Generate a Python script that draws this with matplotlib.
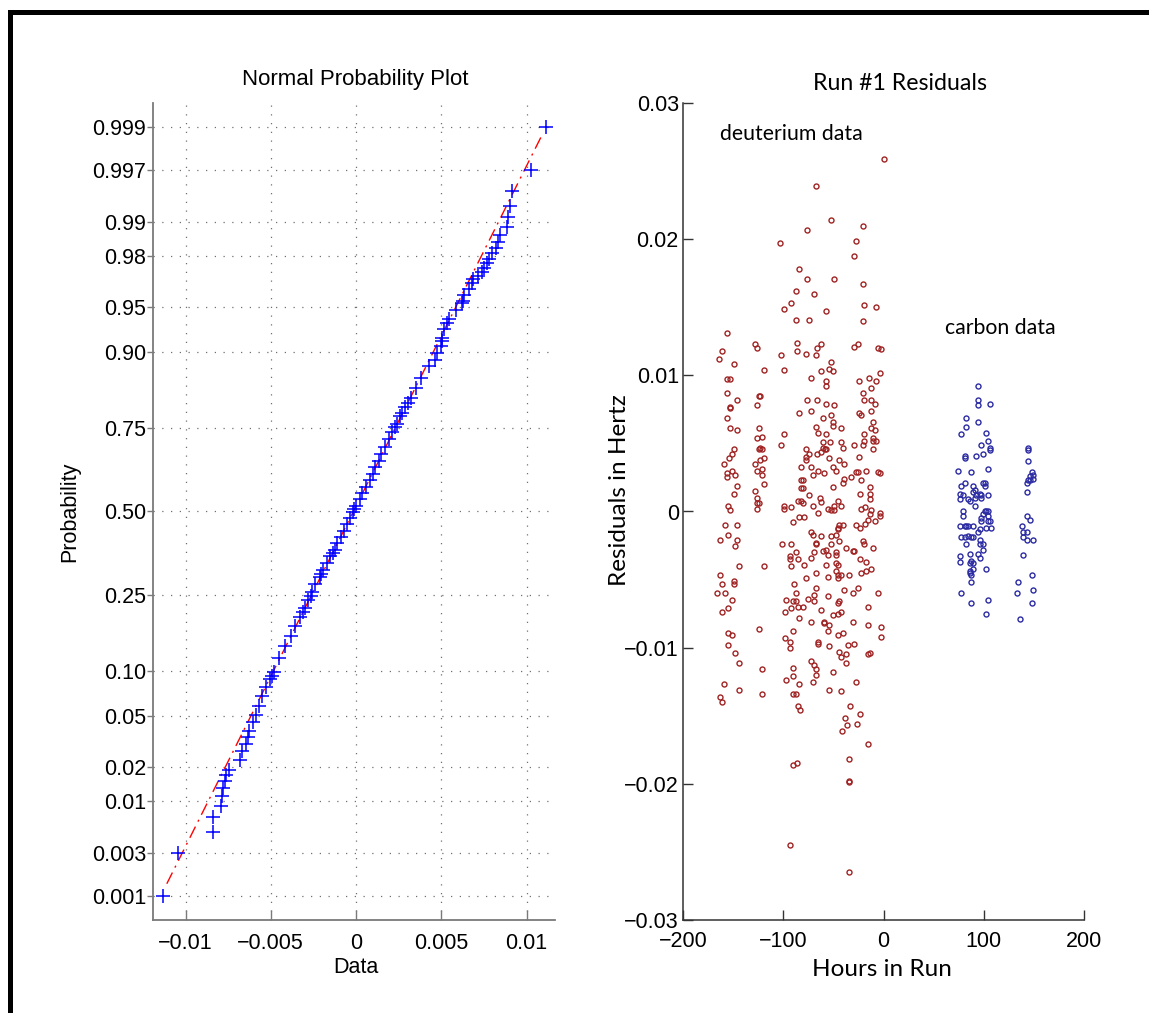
import math
from statistics import NormalDist
import numpy as np
import matplotlib
matplotlib.use('Agg')
import matplotlib.pyplot as plt
from matplotlib.lines import Line2D
from matplotlib.ticker import NullLocator

W, H = 1149, 1013

# ---- normal probability plot data: (rank in sorted sample, value), n = 500 ----
npp_n = 500
npp_points = np.array([
    (1, -0.01135), (2, -0.01044), (3, -0.00840), (4, -0.00840), (5, -0.00794),
    (6, -0.00789), (7, -0.00780), (8, -0.00771), (9, -0.00762), (10, -0.00745),
    (12, -0.00680), (14, -0.00669), (16, -0.00648), (18, -0.00636), (20, -0.00628),
    (23, -0.00607), (26, -0.00589), (30, -0.00572), (35, -0.00551), (40, -0.00528),
    (45, -0.00504), (47, -0.00495), (50, -0.00481), (60, -0.00452), (70, -0.00416),
    (80, -0.00384), (90, -0.00358), (100, -0.00328), (105, -0.00309), (110, -0.00302),
    (120, -0.00282), (125, -0.00262), (130, -0.00258), (140, -0.00238), (150, -0.00214),
    (155, -0.00205), (160, -0.00196), (170, -0.00170), (180, -0.00150), (185, -0.00133),
    (190, -0.00126), (200, -0.00109), (210, -0.00088), (220, -0.00070), (230, -0.00053),
    (240, -0.00035), (250, -0.00015), (254, -0.00010), (260, 0.00000), (270, 0.00023),
    (280, 0.00035), (290, 0.00059), (300, 0.00079), (310, 0.00097), (320, 0.00111),
    (330, 0.00132), (340, 0.00147), (350, 0.00167), (360, 0.00191), (370, 0.00211),
    (376, 0.00229), (380, 0.00238), (390, 0.00258), (394, 0.00268), (400, 0.00287),
    (405, 0.00307), (410, 0.00323), (420, 0.00349), (430, 0.00381), (440, 0.00425),
    (445, 0.00463), (450, 0.00472), (455, 0.00496), (458, 0.00503), (460, 0.00507),
    (465, 0.00516), (468, 0.00532), (470, 0.00548), (474, 0.00584), (477, 0.00619),
    (478, 0.00629), (480, 0.00636), (482, 0.00660), (484, 0.00679), (485, 0.00688),
    (486, 0.00717), (487, 0.00737), (488, 0.00751), (489, 0.00767), (490, 0.00780),
    (491, 0.00796), (492, 0.00821), (493, 0.00833), (494, 0.00845), (495, 0.00887),
    (496, 0.00890), (497, 0.00903), (498, 0.00917), (499, 0.01026), (500, 0.01113)])
# reference line (fit through quartiles)
ref_x = [-0.0111, 0.01085]
ref_p = [0.00138, 0.99870]

prob_ticks = [0.001, 0.003, 0.01, 0.02, 0.05, 0.10, 0.25, 0.50, 0.75, 0.90, 0.95,
              0.98, 0.99, 0.997, 0.999]
prob_labels = ['0.001', '0.003', '0.01', '0.02', '0.05', '0.10', '0.25', '0.50',
               '0.75', '0.90', '0.95', '0.98', '0.99', '0.997', '0.999']
data_ticks = [-0.01, -0.005, 0, 0.005, 0.01]
data_labels = ['\u22120.01', '\u22120.005', '0', '0.005', '0.01']

# ---- residuals: (hours, residual in Hz) ----
deuterium = np.array([
    (0, 0.0259), (-67, 0.0239), (-52, 0.0214), (-20, 0.0210), (-76, 0.0207), (-27, 0.0199),
    (-103, 0.0197), (-29, 0.0188), (-84, 0.0178), (-76, 0.0171), (-49, 0.0171), (-20, 0.0167),
    (-87, 0.0162), (-69, 0.0160), (-92, 0.0153), (-19, 0.0152), (-7, 0.0150), (-99, 0.0149),
    (-57, 0.0147), (-87, 0.0141), (-74, 0.0141), (-20, 0.0140), (-156, 0.0131), (-86, 0.0124),
    (-128, 0.0123), (-126, 0.0120), (-62, 0.0123), (-66, 0.0120), (-29, 0.0121), (-25, 0.0123),
    (-5, 0.0120), (-2, 0.0119), (-161, 0.0118), (-164, 0.0112), (-86, 0.0118), (-102, 0.0115),
    (-77, 0.0116), (-67, 0.0115), (-52, 0.0110), (-149, 0.0108), (-119, 0.0104), (-99, 0.0104),
    (-54, 0.0105), (-50, 0.0103), (-62, 0.0103), (-3, 0.0102), (-156, 0.0097), (-153, 0.0097),
    (-72, 0.0098), (-57, 0.0096), (-57, 0.0092), (-24, 0.0096), (-14, 0.0098), (-7, 0.0096),
    (-12, 0.0091), (-156, 0.0087), (-20, 0.0087), (-124, 0.0085), (-123, 0.0085),
    (-146, 0.0082), (-126, 0.0078), (-153, 0.0077), (-153, 0.0076), (-156, 0.0069), (-76, 0.0082),
    (-66, 0.0082), (-57, 0.0079), (-49, 0.0078), (-19, 0.0082), (-12, 0.0082), (-8, 0.0079),
    (-72, 0.0074), (-84, 0.0072), (-60, 0.0069), (-52, 0.0071), (-50, 0.0066), (-50, 0.0063),
    (-24, 0.0072), (-22, 0.0071), (-12, 0.0074), (-10, 0.0066), (-153, 0.0061), (-146, 0.0060),
    (-124, 0.0061), (-67, 0.0062), (-65, 0.0058), (-57, 0.0057), (-42, 0.0061), (-19, 0.0057),
    (-12, 0.0061), (-8, 0.0060), (-99, 0.0057), (-126, 0.0054), (-121, 0.0055), (-102, 0.0049),
    (-60, 0.0051), (-53, 0.0051), (-42, 0.0051), (-29, 0.0049), (-20, 0.0049), (-19, 0.0052),
    (-10, 0.0054), (-10, 0.0052), (-7, 0.0052), (-124, 0.0046), (-123, 0.0047), (-121, 0.0046),
    (-149, 0.0046), (-77, 0.0046), (-60, 0.0047), (-58, 0.0046), (-57, 0.0046), (-40, 0.0047),
    (-10, 0.0046), (-151, 0.0042), (-154, 0.0039), (-159, 0.0035), (-123, 0.0038), (-119, 0.0039),
    (-128, 0.0035), (-77, 0.0040), (-77, 0.0038), (-74, 0.0042), (-66, 0.0042), (-62, 0.0044),
    (-54, 0.0039), (-44, 0.0038), (-39, 0.0035), (-24, 0.0040), (-82, 0.0033), (-72, 0.0033),
    (-65, 0.0030), (-50, 0.0033), (-47, 0.0030), (-126, 0.0030), (-121, 0.0031), (-156, 0.0028),
    (-156, 0.0025), (-148, 0.0027), (-151, 0.0030), (-121, 0.0027), (-119, 0.0020), (-70, 0.0027),
    (-59, 0.0028), (-27, 0.0029), (-25, 0.0029), (-17, 0.0030), (-5, 0.0029), (-3, 0.0028),
    (-82, 0.0023), (-80, 0.0023), (-40, 0.0021), (-39, 0.0024), (-32, 0.0025), (-22, 0.0023),
    (-146, 0.0019), (-50, 0.0018), (-149, 0.0013), (-128, 0.0015), (-126, 0.0010), (-82, 0.0017),
    (-80, 0.0017), (-74, 0.0012), (-23, 0.0013), (-13, 0.0018), (-13, 0.0013), (-13, 0.0009),
    (-63, 0.0010), (-62, 0.0007), (-85, 0.0008), (-82, 0.0008), (-80, 0.0006), (-70, 0.0004),
    (-155, 0.0004), (-153, 0.0001), (-126, 0.0006), (-126, 0.0002), (-124, 0.0006), (-99, 0.0004),
    (-99, 0.0002), (-92, 0.0003), (-55, 0.0002), (-52, 0.0001), (-49, 0.0001), (-49, 0.0004),
    (-45, 0.0008), (-42, 0.0004), (-65, -0.0001), (-22, 0.0002), (-18, 0.0003), (-12, 0.0001),
    (-13, -0.0002), (-15, -0.0006), (-3, -0.0001), (-3, -0.0003), (-8, -0.0007), (-84, -0.0004),
    (-79, -0.0004), (-90, -0.0008), (-18, -0.0009), (-23, -0.0012), (-27, -0.0010),
    (-158, -0.0010), (-146, -0.0010), (-155, -0.0017), (-163, -0.0021), (-146, -0.0021),
    (-148, -0.0025), (-72, -0.0015), (-70, -0.0017), (-62, -0.0018), (-52, -0.0018),
    (-47, -0.0017), (-45, -0.0012), (-44, -0.0010), (-40, -0.0010), (-45, -0.0013),
    (-67, -0.0023), (-67, -0.0024), (-57, -0.0028), (-60, -0.0029), (-55, -0.0032),
    (-52, -0.0024), (-44, -0.0022), (-37, -0.0027), (-47, -0.0030), (-47, -0.0032),
    (-101, -0.0024), (-92, -0.0024), (-87, -0.0030), (-93, -0.0033), (-93, -0.0035),
    (-85, -0.0035), (-72, -0.0034), (-69, -0.0030), (-30, -0.0029), (-29, -0.0029),
    (-20, -0.0022), (-19, -0.0024), (-10, -0.0027), (-23, -0.0035), (-17, -0.0037),
    (-12, -0.0042), (-17, -0.0044), (-22, -0.0045), (-47, -0.0038), (-45, -0.0039),
    (-47, -0.0044), (-45, -0.0047), (-45, -0.0049), (-42, -0.0047), (-34, -0.0047),
    (-57, -0.0039), (-55, -0.0048), (-67, -0.0045), (-79, -0.0039), (-92, -0.0040),
    (-77, -0.0049), (-119, -0.0040), (-144, -0.0040), (-163, -0.0047), (-161, -0.0053),
    (-149, -0.0051), (-149, -0.0053), (-89, -0.0053), (-67, -0.0056), (-39, -0.0058),
    (-25, -0.0056), (-166, -0.0060), (-158, -0.0060), (-151, -0.0065), (-87, -0.0060),
    (-69, -0.0061), (-75, -0.0064), (-69, -0.0066), (-55, -0.0062), (-97, -0.0065),
    (-90, -0.0066), (-87, -0.0066), (-30, -0.0060), (-5, -0.0060), (-45, -0.0067),
    (-44, -0.0066), (-161, -0.0074), (-155, -0.0071), (-98, -0.0074), (-92, -0.0071),
    (-85, -0.0070), (-80, -0.0070), (-62, -0.0072), (-50, -0.0076), (-45, -0.0075),
    (-42, -0.0074), (-15, -0.0070), (-84, -0.0078), (-72, -0.0081), (-59, -0.0081),
    (-59, -0.0082), (-54, -0.0083), (-30, -0.0081), (-15, -0.0083), (-2, -0.0085),
    (-124, -0.0086), (-155, -0.0089), (-151, -0.0091), (-90, -0.0088), (-55, -0.0088),
    (-45, -0.0091), (-40, -0.0089), (-2, -0.0092), (-98, -0.0093), (-93, -0.0096),
    (-93, -0.0100), (-65, -0.0096), (-65, -0.0097), (-54, -0.0099), (-35, -0.0098),
    (-29, -0.0097), (-155, -0.0098), (-148, -0.0104), (-144, -0.0111), (-44, -0.0103),
    (-42, -0.0107), (-37, -0.0105), (-13, -0.0104), (-15, -0.0105), (-72, -0.0110),
    (-69, -0.0113), (-67, -0.0116), (-67, -0.0120), (-70, -0.0125), (-50, -0.0118),
    (-37, -0.0111), (-121, -0.0116), (-90, -0.0115), (-90, -0.0121), (-97, -0.0124),
    (-84, -0.0127), (-27, -0.0125), (-159, -0.0127), (-144, -0.0131), (-121, -0.0134),
    (-90, -0.0134), (-87, -0.0134), (-54, -0.0131), (-42, -0.0132), (-163, -0.0136),
    (-161, -0.0140), (-85, -0.0143), (-83, -0.0146), (-33, -0.0143), (-23, -0.0149),
    (-38, -0.0152), (-36, -0.0157), (-26, -0.0156), (-41, -0.0161), (-15, -0.0171),
    (-34, -0.0182), (-90, -0.0186), (-86, -0.0185), (-34, -0.0198), (-34, -0.0199),
    (-93, -0.0245), (-34, -0.0265)])

carbon = np.array([
    (94, 0.0092), (94, 0.0082), (94, 0.0078), (106, 0.0079), (82, 0.0069), (94, 0.0066),
    (82, 0.0062), (77, 0.0057), (102, 0.0058), (104, 0.0052), (97, 0.0049), (106, 0.0047),
    (106, 0.0045), (99, 0.0042), (92, 0.0041), (81, 0.0041), (81, 0.0039), (104, 0.0031),
    (74, 0.0030), (87, 0.0029), (81, 0.0021), (77, 0.0019), (89, 0.0019), (91, 0.0016),
    (99, 0.0021), (101, 0.0021), (101, 0.0019), (89, 0.0014), (96, 0.0013), (97, 0.0012),
    (92, 0.0012), (91, 0.0010), (104, 0.0012), (76, 0.0013), (79, 0.0012), (76, 0.0009),
    (84, 0.0009), (86, 0.0008), (97, 0.0010), (91, 0.0004), (79, 0.0000), (79, -0.0003),
    (99, -0.0002), (101, 0.0000), (102, 0.0000), (104, 0.0000), (97, -0.0005), (97, -0.0007),
    (104, -0.0003), (104, -0.0007), (106, -0.0007), (76, -0.0011), (81, -0.0011),
    (82, -0.0011), (84, -0.0011), (89, -0.0011), (102, -0.0012), (107, -0.0012),
    (96, -0.0013), (94, -0.0015), (77, -0.0019), (81, -0.0019), (84, -0.0018), (87, -0.0019),
    (89, -0.0019), (96, -0.0021), (82, -0.0024), (96, -0.0024), (99, -0.0024), (99, -0.0028),
    (86, -0.0031), (94, -0.0031), (96, -0.0034), (76, -0.0033), (76, -0.0037), (87, -0.0036),
    (86, -0.0038), (89, -0.0038), (89, -0.0042), (86, -0.0044), (86, -0.0045), (87, -0.0047),
    (102, -0.0042), (87, -0.0052), (77, -0.0060), (87, -0.0067), (104, -0.0065),
    (102, -0.0075),
    (144, 0.0047), (144, 0.0045), (144, 0.0037), (148, 0.0029), (149, 0.0027), (146, 0.0026),
    (149, 0.0024), (146, 0.0023), (144, 0.0023), (143, 0.0021), (143, 0.0014), (143, -0.0003),
    (146, -0.0006), (138, -0.0011), (139, -0.0015), (143, -0.0015), (139, -0.0019),
    (143, -0.0021), (149, -0.0021), (139, -0.0032), (148, -0.0047), (134, -0.0052),
    (149, -0.0058), (133, -0.0060), (148, -0.0067), (136, -0.0079)])

hour_ticks = [-200, -100, 0, 100, 200]
hour_labels = ['\u2212200', '\u2212100', '0', '100', '200']
resid_ticks = [-0.03, -0.02, -0.01, 0, 0.01, 0.02, 0.03]
resid_labels = ['\u22120.03', '\u22120.02', '\u22120.01', '0', '0.01', '0.02', '0.03']

# ---- normal probability scale ----
nd = NormalDist()
_ppf = np.vectorize(nd.inv_cdf, otypes=[float])
_erf = np.vectorize(math.erf, otypes=[float])


def prob_fwd(p):
    p = np.clip(np.asarray(p, dtype=float), 1e-9, 1 - 1e-9)
    return _ppf(p)


def prob_inv(z):
    z = np.asarray(z, dtype=float)
    return 0.5 * (1 + _erf(z / math.sqrt(2)))


def fx(px):
    return px / W


def fy(py):
    return 1 - py / H


arial = 'Liberation Sans'
myriad = 'Lato'

fig = plt.figure(figsize=(W / 100, H / 100), dpi=100)

# ---------------- left: normal probability plot ----------------
ax1 = fig.add_axes([fx(153), fy(920), (555 - 153) / W, (920 - 103) / H])
ax1.set_yscale('function', functions=(prob_fwd, prob_inv))
npp_prob = (npp_points[:, 0] - 0.5) / npp_n
ax1.plot(ref_x, ref_p, color='red', lw=1.0, linestyle=(0, (9, 4, 1.5, 4)), zorder=2)
ax1.plot(npp_points[:, 1], npp_prob, '+', color='blue', ms=10.5, mew=1.1, zorder=3)

ax1.set_xlim(-0.01191, 0.01167)
ax1.set_ylim(0.00051, 0.99949)
ax1.set_yticks(prob_ticks)
ax1.set_yticklabels(prob_labels)
ax1.yaxis.set_minor_locator(NullLocator())
ax1.set_xticks(data_ticks)
ax1.set_xticklabels(data_labels)
ax1.grid(True, linestyle=(0, (1, 6)), color='#707070', lw=0.9)
ax1.set_axisbelow(True)
for s in ['top', 'right']:
    ax1.spines[s].set_visible(False)
for s in ['left', 'bottom']:
    ax1.spines[s].set_color('#7a7a7a')
    ax1.spines[s].set_linewidth(1.3)
ax1.tick_params(axis='y', direction='out', length=4, width=1, color='#7a7a7a', pad=1,
                labelsize=15.5)
ax1.tick_params(axis='x', direction='in', length=7, width=1, color='#7a7a7a', pad=9,
                labelsize=15.5)
for lab in ax1.get_xticklabels() + ax1.get_yticklabels():
    lab.set_fontfamily(arial)

fig.text(fx(355), fy(80), 'Normal Probability Plot', ha='center', va='center',
         fontsize=16, family=arial)
fig.text(fx(356), fy(967), 'Data', ha='center', va='center', fontsize=15.5, family=arial)
fig.text(fx(70), fy(512), 'Probability', ha='center', va='center', rotation=90,
         fontsize=15.5, family=arial)

# ---------------- right: residuals ----------------
ax2 = fig.add_axes([fx(683), fy(920), (1084 - 683) / W, (920 - 103) / H])
ax2.plot(deuterium[:, 0], deuterium[:, 1], 'o', mfc='none', mec='#a02323', ms=3.6, mew=1.0)
ax2.plot(carbon[:, 0], carbon[:, 1], 'o', mfc='none', mec='#2b2ba3', ms=3.6, mew=1.0)
ax2.set_xlim(-200, 200)
ax2.set_ylim(-0.03, 0.03)
ax2.set_xticks(hour_ticks)
ax2.set_xticklabels(hour_labels)
ax2.set_yticks(resid_ticks)
ax2.set_yticklabels(resid_labels)
for s in ['top', 'right']:
    ax2.spines[s].set_visible(False)
for s in ['left', 'bottom']:
    ax2.spines[s].set_color('#333333')
    ax2.spines[s].set_linewidth(1.1)
ax2.tick_params(axis='both', direction='in', length=7, width=1, color='#333333',
                labelsize=15.5)
ax2.tick_params(axis='y', pad=3)
ax2.tick_params(axis='x', pad=8)
for lab in ax2.get_xticklabels() + ax2.get_yticklabels():
    lab.set_fontfamily(arial)

ax2.text(-163, 0.0277, 'deuterium data', ha='left', va='center', fontsize=15.3, family=myriad)
ax2.text(61, 0.01346, 'carbon data', ha='left', va='center', fontsize=15.3, family=myriad)

fig.text(fx(900), fy(83), 'Run #1 Residuals', ha='center', va='center', fontsize=16.7,
         family=myriad)
fig.text(fx(882), fy(969), 'Hours in Run', ha='center', va='center', fontsize=17.5,
         family=myriad)
fig.text(fx(620), fy(490), 'Residuals in Hertz', ha='center', va='center', rotation=90,
         fontsize=17.5, family=myriad)

# frame lines along top and left edge
fig.add_artist(Line2D([fx(10), 1], [fy(12.5), fy(12.5)], color='black', lw=3.6,
                      solid_capstyle='projecting'))
fig.add_artist(Line2D([fx(10), fx(10)], [fy(12.5), 0], color='black', lw=3.6,
                      solid_capstyle='projecting'))

fig.savefig('out.png', dpi=100)
